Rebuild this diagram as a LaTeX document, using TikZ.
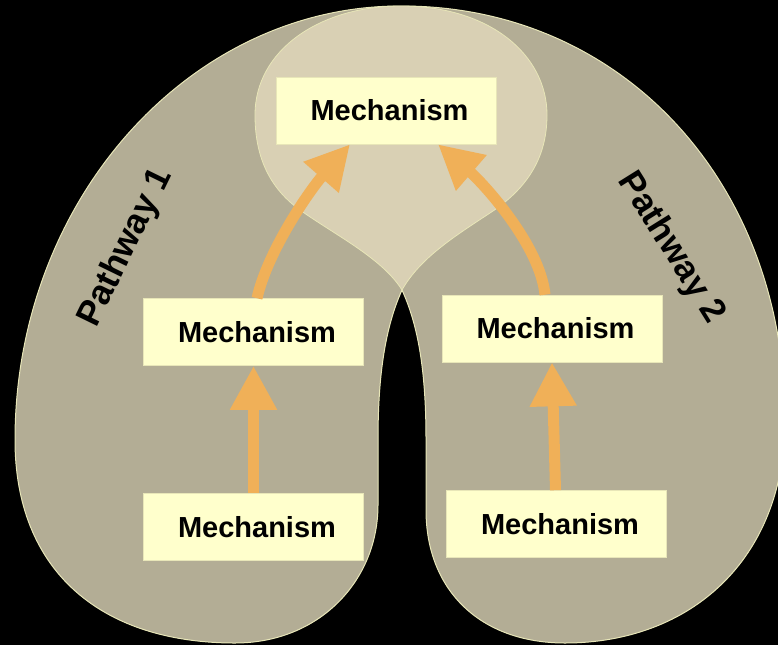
\documentclass[tikz,border=0pt]{standalone}
\usepackage{fontspec}
\setmainfont{Liberation Sans}
\usetikzlibrary{arrows.meta}
\definecolor{khaki}{HTML}{B3AD95}
\definecolor{lightkhaki}{HTML}{D9D0B4}
\definecolor{boxfill}{HTML}{FFFFCC}
\definecolor{arrowc}{HTML}{F0B058}
\definecolor{rim}{HTML}{E8E6B8}
\tikzset{
  mechbox/.style={fill=boxfill, draw=rim, line width=0.6pt, minimum width=220pt, minimum height=67pt, inner sep=0pt, font=\fontsize{29}{32}\selectfont\bfseries},
  flow/.style={draw=arrowc, line width=11pt, -{Triangle[length=44pt,width=44pt]}},
  pathlabel/.style={font=\fontsize{35}{38}\selectfont\bfseries, inner sep=0pt},
}
\begin{document}
\begin{tikzpicture}[x=1pt,y=-1pt]
\fill[black] (0,0) rectangle (778,645);
\useasboundingbox (0,0) rectangle (778,645);
\begin{scope}
\clip (0,0) rectangle (778,645);
% outer two-lobed shape
\filldraw[fill=khaki, draw=rim, line width=1pt]
  (402,290) .. controls (384,330) and (378,380) .. (378,440)
  -- (378,505)
  .. controls (378,580) and (320,643) .. (235,643)
  .. controls (100,643) and (15,570) .. (15,440)
  .. controls (15,200) and (190,5) .. (402,6)
  .. controls (620,6) and (785,180) .. (785,420)
  .. controls (785,560) and (690,643) .. (565,643)
  .. controls (480,643) and (426,590) .. (426,510)
  -- (426,440)
  .. controls (426,370) and (418,325) .. (402,290) -- cycle;
% light top shape
\filldraw[fill=lightkhaki, draw=rim, line width=0.8pt]
  (402,290) .. controls (382,258) and (335,235) .. (300,210)
  .. controls (265,185) and (255,150) .. (255,115)
  .. controls (255,50) and (320,6) .. (401,6)
  .. controls (490,6) and (547,55) .. (547,115)
  .. controls (547,160) and (525,190) .. (490,213)
  .. controls (455,236) and (420,258) .. (402,290) -- cycle;
\end{scope}

\node[mechbox] (top) at (386,110.5) {\hspace{7pt}Mechanism};
\node[mechbox] (m1l) at (253.5,332) {\hspace{7pt}Mechanism};
\node[mechbox] (m1r) at (552,328.5) {\hspace{7pt}Mechanism};
\node[mechbox] (b1l) at (253.5,527) {\hspace{7pt}Mechanism};
\node[mechbox] (b1r) at (556.5,524) {\hspace{7pt}Mechanism};

\draw[flow] (b1l.north) -- (m1l.south);
\draw[flow] ([xshift=-1pt]b1r.north) -- (m1r.south);
\draw[flow] ([xshift=3.5pt]m1l.north) .. controls (268,250) and (310,190) .. ([xshift=-36pt]top.south);
\draw[flow] ([xshift=-7pt]m1r.north) .. controls (540,245) and (483,183) .. ([xshift=52pt]top.south);

\node[pathlabel, rotate=64] (p1) at (126,248) {Pathway 1};
\node[pathlabel, rotate=-58] (p2) at (671,248) {Pathway 2};
\end{tikzpicture}
\end{document}
